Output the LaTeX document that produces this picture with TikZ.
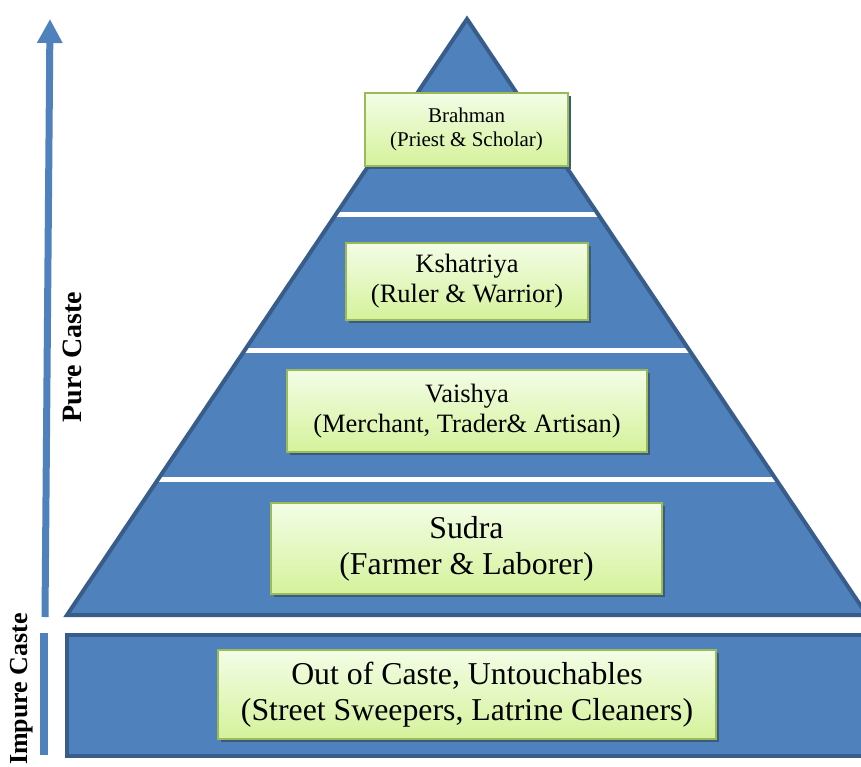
\documentclass[tikz,border=0pt]{standalone}
\usepackage{fontspec}
\setmainfont{Liberation Serif}
\usetikzlibrary{arrows.meta,shadows}
\definecolor{pblue}{HTML}{4F81BD}
\definecolor{pborder}{HTML}{385D8A}
\definecolor{gborder}{HTML}{9BBB59}
\definecolor{gtop}{HTML}{F3FDE6}
\definecolor{gbot}{HTML}{D5F29B}
\definecolor{shadowc}{HTML}{3A5A80}
\begin{document}
\begin{tikzpicture}[x=1pt,y=-1pt,
  gbox/.style={draw=gborder, line width=2pt, top color=gtop, bottom color=gbot,
    align=center, inner sep=0pt, text=black,
    drop shadow={shadow xshift=3pt, shadow yshift=-3pt, fill=shadowc, opacity=1}},
  sepline/.style={white, line width=5pt},
  layer/.style={pborder, line width=4pt, line join=miter},
  sidelabel/.style={rotate=90, font=\bfseries\fontsize{28}{30}\selectfont, inner sep=0pt}]
\useasboundingbox (0,0) rectangle (861,767);
% pyramid
\coordinate (apex) at (467,19);
\coordinate (bl) at (67,615);
\coordinate (br) at (867,615);
\fill[pblue] (apex) -- (bl) -- (br) -- cycle;
\begin{scope}
  \clip (apex) -- (bl) -- (br) -- cycle;
  \draw[sepline] (0,215) -- (861,215);
  \draw[sepline] (0,350) -- (861,350);
  \draw[sepline] (0,479) -- (861,479);
\end{scope}
\draw[layer] (apex) -- (bl) -- (br) -- cycle;
% bottom band
\draw[layer, fill=pblue] (67,635) rectangle (880,756);
% boxes
\node[gbox, minimum width=203pt, minimum height=73pt, font=\fontsize{21}{24}\selectfont]
  (brahman) at (466.5,129.5) {Brahman\\(Priest \& Scholar)};
\node[gbox, minimum width=242pt, minimum height=77pt, font=\fontsize{26.5}{30}\selectfont]
  (kshatriya) at (467,281.5) {Kshatriya\\(Ruler \& Warrior)};
\node[gbox, minimum width=360pt, minimum height=82pt, font=\fontsize{26.5}{30}\selectfont]
  (vaishya) at (467,411) {Vaishya\\(Merchant, Trader\& Artisan)};
\node[gbox, minimum width=391pt, minimum height=91pt, font=\fontsize{31.8}{36}\selectfont]
  (sudra) at (466.5,548.5) {Sudra\\(Farmer \& Laborer)};
\node[gbox, minimum width=498pt, minimum height=89pt, font=\fontsize{31.8}{36}\selectfont]
  (outcaste) at (467,694.5) {Out of Caste, Untouchables\\(Street Sweepers, Latrine Cleaners)};
% side arrow and bar
\coordinate (arrbot) at (45,617);
\coordinate (arrtop) at (50,19);
\draw[pblue, line width=7pt, -{Triangle[width=24pt,length=24pt]}] (arrbot) -- (arrtop);
\coordinate (barbot) at (44,755);
\coordinate (bartop) at (44,633);
\draw[pblue, line width=8pt] (barbot) -- (bartop);
% labels
\node[sidelabel] (pure) at (72,357) {Pure Caste};
\node[sidelabel, font=\bfseries\fontsize{26}{30}\selectfont] (impure) at (22,689) {Impure Caste};
\end{tikzpicture}
\end{document}
